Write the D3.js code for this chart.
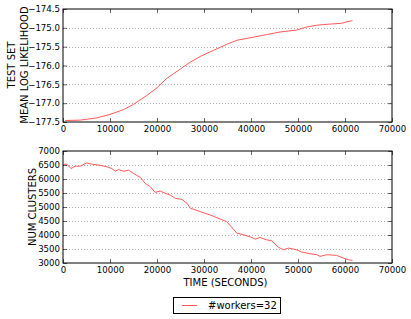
<!DOCTYPE html>
<html>
<head>
<meta charset="utf-8">
<script src="https://cdn.jsdelivr.net/npm/d3@7"></script>
<style>
  body { margin: 0; background: #fff; }
  text { font-family: "DejaVu Sans", sans-serif; fill: #000; }
</style>
</head>
<body>
<div id="chart"></div>
<script>
// time (seconds) and test-set mean log likelihood
var llTime = [500, 3700, 7200, 10000, 12900, 15000, 17900, 20000, 22100, 25000, 27100, 29200,
  32000, 34800, 37000, 40000, 43300, 46200, 49700, 51800, 54000, 56800, 59300, 60400, 61600];
var llValue = [-177.46, -177.45, -177.39, -177.30, -177.17, -177.03, -176.79, -176.59, -176.34,
  -176.09, -175.91, -175.76, -175.60, -175.44, -175.33, -175.26, -175.18, -175.11, -175.06,
  -174.98, -174.93, -174.90, -174.88, -174.84, -174.81];

// time (seconds) and number of clusters
var ncTime = [0, 850, 1700, 2600, 3700, 5000, 6200, 7900, 9400, 10400, 11100, 11800, 12900, 14000,
  15000, 16500, 17500, 18600, 19600, 20700, 21800, 22800, 23900, 25300, 26400, 27100, 27800,
  29200, 31300, 33000, 34800, 35900, 37000, 38400, 40000, 40900, 41900, 43300, 44400, 45800,
  46900, 48000, 49700, 50800, 52600, 54000, 54700, 56100, 58200, 59600, 60700, 61600];
var ncValue = [6520, 6527, 6373, 6456, 6456, 6574, 6527, 6491, 6432, 6373, 6278, 6337, 6278, 6314,
  6195, 6053, 5840, 5722, 5521, 5568, 5485, 5426, 5308, 5272, 5130, 4953, 4917,
  4834, 4716, 4598, 4479, 4278, 4065, 4006, 3923, 3852, 3911, 3828, 3793, 3568,
  3473, 3533, 3473, 3391, 3331, 3296, 3237, 3296, 3272, 3178, 3118, 3095];

var xTicks = [0, 10000, 20000, 30000, 40000, 50000, 60000, 70000];
var llTicks = [-177.5, -177.0, -176.5, -176.0, -175.5, -175.0, -174.5];
var ncTicks = [3000, 3500, 4000, 4500, 5000, 5500, 6000, 6500, 7000];
var seriesName = '#workers=32';

var W = 411, H = 319;
var LEFT = 63, RIGHT = 392;
var LINE_COLOR = '#ff5a5a';

var svg = d3.select('#chart').append('svg')
  .attr('width', W).attr('height', H);

var x = d3.scaleLinear().domain([0, 70000]).range([LEFT, RIGHT]);

function minus(s) { return s.replace('-', '\u2212'); }

function drawPanel(top, bottom, yDomain, yTicks, yFmt, xs, ys) {
  var y = d3.scaleLinear().domain(yDomain).range([bottom, top]);
  var g = svg.append('g');

  // dotted grid
  g.selectAll('.grid').data(yTicks.slice(1, -1)).enter().append('line')
    .attr('x1', LEFT).attr('x2', RIGHT)
    .attr('y1', function(d) { return Math.round(y(d)) + 0.5; })
    .attr('y2', function(d) { return Math.round(y(d)) + 0.5; })
    .attr('stroke', '#999').attr('stroke-width', 0.8)
    .attr('stroke-dasharray', '1,2');

  // axes, ticks pointing inward on all sides
  var ax = g.append('g').attr('transform', 'translate(0,' + bottom + ')')
    .call(d3.axisBottom(x).tickValues(xTicks).tickSize(-4).tickPadding(4).tickFormat(d3.format('d')));
  var axTop = g.append('g').attr('transform', 'translate(0,' + top + ')')
    .call(d3.axisTop(x).tickValues(xTicks).tickSize(-4).tickFormat(''));
  var ay = g.append('g').attr('transform', 'translate(' + LEFT + ',0)')
    .call(d3.axisLeft(y).tickValues(yTicks).tickSize(-4).tickPadding(3).tickFormat(function(d) { return minus(yFmt(d)); }));
  var ayR = g.append('g').attr('transform', 'translate(' + RIGHT + ',0)')
    .call(d3.axisRight(y).tickValues(yTicks).tickSize(-4).tickFormat(''));
  [ax, axTop, ay, ayR].forEach(function(a) {
    a.select('.domain').remove();
    a.selectAll('text').style('font-family', '"DejaVu Sans", sans-serif').style('font-size', '8.6px').attr('fill', '#000');
    a.selectAll('line').attr('stroke', '#000').attr('stroke-width', 0.6);
  });

  var line = d3.line()
    .x(function(d, i) { return x(xs[i]); })
    .y(function(d) { return y(d); });
  g.append('path').datum(ys)
    .attr('d', line)
    .attr('fill', 'none')
    .attr('stroke', LINE_COLOR)
    .attr('stroke-width', 1);

  g.append('rect')
    .attr('x', LEFT).attr('y', top)
    .attr('width', RIGHT - LEFT).attr('height', bottom - top)
    .attr('fill', 'none').attr('stroke', '#000').attr('stroke-width', 1);
}

drawPanel(9, 122, [-177.5, -174.5], llTicks, d3.format('.1f'), llTime, llValue);
drawPanel(151, 263, [3000, 7000], ncTicks, d3.format('d'), ncTime, ncValue);

// axis labels
function vlabel(cx, cy, txt) {
  svg.append('text')
    .attr('transform', 'translate(' + cx + ',' + cy + ') rotate(-90)')
    .attr('text-anchor', 'middle').attr('dominant-baseline', 'central')
    .style('font-size', '10px').text(txt);
}
vlabel(11, 65, 'TEST SET');
vlabel(24.5, 65, 'MEAN LOG LIKELIHOOD');
vlabel(32, 207, 'NUM CLUSTERS');

svg.append('text')
  .attr('x', (LEFT + RIGHT) / 2 - 2).attr('y', 282)
  .attr('text-anchor', 'middle').attr('dominant-baseline', 'central')
  .style('font-size', '10px').text('TIME (SECONDS)');

// legend
var lg = svg.append('g');
lg.append('rect').attr('x', 173.5).attr('y', 297.5).attr('width', 107).attr('height', 16)
  .attr('fill', '#fff').attr('stroke', '#000').attr('stroke-width', 1);
lg.append('line').attr('x1', 182).attr('x2', 197).attr('y1', 305.5).attr('y2', 305.5)
  .attr('stroke', LINE_COLOR).attr('stroke-width', 1);
lg.append('text').attr('x', 208).attr('y', 305.5)
  .attr('dominant-baseline', 'central').style('font-size', '10px').text(seriesName);
</script>
</body>
</html>
